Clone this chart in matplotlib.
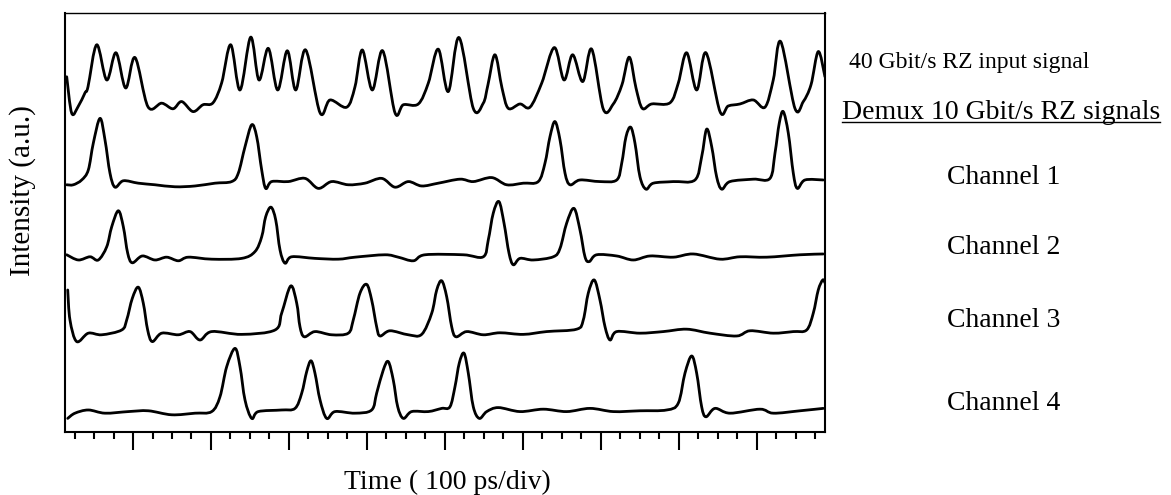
import numpy as np
import matplotlib.pyplot as plt
from matplotlib.ticker import MultipleLocator
from matplotlib.lines import Line2D
from matplotlib.path import Path
from matplotlib.patches import PathPatch

plt.rcParams['font.family'] = ['Liberation Serif', 'DejaVu Serif']
plt.rcParams['font.size'] = 18

# scope traces: time (ps) and intensity (a.u., traces stacked)
input_t = [15.0, 21.4, 29.5, 38.5, 42.3, 53.5, 66.3, 78.2, 90.6, 102.6, 119.2, 136.8, 151.3,
           162.4, 176.9, 189.7, 202.6, 213.7, 225.3, 237.2, 250.9, 261.5, 273.5, 285.5, 297.8,
           308.6, 321.4, 339.8, 352.6, 374.0, 384.6, 394.0, 406.8, 420.1, 435.9, 446.6, 465.8,
           478.6, 491.4, 504.2, 518.0, 536.3, 549.1, 555.1, 564.1, 573.1, 581.2, 596.2, 609.0,
           624.0, 640.2, 652.6, 663.7, 676.6, 688.1, 703.0, 715.8, 726.9, 736.3, 744.9, 753.0,
           765.0, 788.5, 799.1, 809.9, 822.7, 834.6, 852.6, 863.2, 878.2, 895.3, 910.3, 920.9,
           930.4, 948.7, 959.4, 969.3, 978.6, 987.2]
input_y = [8.88, 7.97, 8.13, 8.48, 8.63, 9.68, 8.80, 9.48, 8.60, 9.36, 8.13, 8.22, 8.08,
           8.26, 8.01, 8.18, 8.23, 8.73, 9.68, 8.55, 9.87, 8.80, 9.59, 8.55, 9.53,
           8.55, 9.55, 7.98, 8.30, 8.12, 8.63, 9.55, 8.55, 9.53, 7.98, 8.18, 8.20,
           8.72, 9.57, 8.51, 9.86, 8.09, 8.22, 8.68, 9.43, 8.60, 8.09, 8.20, 8.12,
           8.72, 9.61, 8.80, 9.43, 8.76, 9.57, 8.07, 8.20, 8.68, 9.37, 8.60, 8.09,
           8.20, 8.23, 8.72, 9.48, 8.55, 9.48, 8.01, 8.15, 8.20, 8.30, 8.12, 8.80,
           9.76, 8.09, 8.26, 8.68, 9.51, 8.88]

ch1_t = [15.0, 23.5, 34.2, 42.7, 49.1, 57.7, 64.1, 70.5, 76.9, 87.6, 106.8, 128.2, 153.8,
         179.5, 205.1, 226.5, 235.0, 243.6, 252.2, 258.6, 265.0, 270.1, 277.8, 299.1, 320.5,
         337.6, 354.7, 376.0, 397.4, 418.9, 435.9, 453.0, 470.1, 491.4, 519.2, 536.3, 559.9,
         579.1, 600.4, 619.6, 628.2, 634.6, 641.0, 647.5, 653.9, 660.3, 673.1, 698.7, 720.2,
         726.6, 732.1, 738.1, 743.6, 750.0, 757.7, 767.1, 792.7, 820.5, 829.1, 835.5, 842.0,
         848.3, 854.8, 865.4, 895.3, 916.7, 923.1, 928.6, 933.7, 940.2, 946.6, 951.7, 961.6,
         985.0]
ch1_y = [6.18, 6.18, 6.30, 6.55, 7.22, 7.84, 7.30, 6.47, 6.12, 6.28, 6.22, 6.18, 6.13,
         6.15, 6.22, 6.26, 6.47, 7.13, 7.68, 7.38, 6.55, 6.09, 6.26, 6.26, 6.34,
         6.09, 6.26, 6.18, 6.22, 6.34, 6.12, 6.26, 6.15, 6.22, 6.32, 6.26, 6.36,
         6.18, 6.22, 6.26, 6.72, 7.38, 7.76, 7.30, 6.47, 6.18, 6.30, 6.26, 6.30,
         6.72, 7.38, 7.62, 7.22, 6.38, 6.07, 6.22, 6.26, 6.30, 6.88, 7.57, 7.13,
         6.38, 6.07, 6.26, 6.32, 6.34, 6.97, 7.72, 8.01, 7.47, 6.47, 6.09, 6.30,
         6.30]

ch2_t = [15.0, 29.9, 44.9, 55.5, 66.3, 72.7, 81.2, 87.6, 93.2, 99.1, 111.9, 128.2, 143.2,
         158.1, 170.9, 200.9, 239.4, 256.4, 265.0, 270.1, 276.9, 283.0, 288.5, 294.9, 303.5,
         333.3, 363.2, 384.6, 423.1, 440.1, 459.4, 474.4, 523.5, 549.1, 555.5, 561.9, 569.2,
         575.7, 582.1, 587.6, 596.2, 613.2, 638.9, 647.5, 656.0, 665.4, 673.1, 679.5, 685.0,
         694.5, 720.2, 741.4, 762.8, 792.7, 818.4, 852.6, 878.2, 912.5, 955.2, 985.0]
ch2_y = [4.43, 4.30, 4.38, 4.30, 4.63, 5.13, 5.53, 5.13, 4.47, 4.23, 4.40, 4.30, 4.37,
         4.28, 4.37, 4.32, 4.34, 4.51, 4.88, 5.38, 5.62, 5.30, 4.55, 4.22, 4.38,
         4.34, 4.32, 4.37, 4.43, 4.37, 4.28, 4.43, 4.43, 4.38, 4.80, 5.47, 5.76,
         5.22, 4.47, 4.18, 4.34, 4.30, 4.38, 4.59, 5.22, 5.59, 5.05, 4.38, 4.26,
         4.43, 4.40, 4.30, 4.40, 4.37, 4.45, 4.32, 4.38, 4.37, 4.43, 4.45]

ch3_t = [16.3, 19.2, 27.8, 42.7, 59.9, 85.5, 91.9, 99.1, 106.8, 113.2, 118.8, 124.7, 136.8,
         158.1, 173.1, 185.9, 200.9, 239.4, 282.1, 290.6, 302.2, 309.9, 314.1, 319.6, 333.3,
         354.7, 376.0, 382.4, 391.0, 399.6, 406.0, 412.4, 416.7, 429.5, 453.0, 470.1, 483.0,
         489.4, 495.8, 502.2, 508.6, 514.1, 527.8, 549.1, 570.5, 600.4, 630.4, 668.9, 677.3,
         683.7, 691.4, 698.7, 705.2, 711.6, 720.2, 750.0, 779.9, 809.9, 839.8, 874.0, 891.1,
         920.9, 946.6, 963.7, 972.2, 978.6, 984.3, 987.2]
ch3_y = [3.55, 2.80, 2.26, 2.47, 2.43, 2.55, 2.80, 3.34, 3.62, 3.22, 2.55, 2.26, 2.47,
         2.43, 2.51, 2.30, 2.51, 2.44, 2.55, 2.97, 3.65, 3.22, 2.63, 2.38, 2.51,
         2.43, 2.47, 2.80, 3.47, 3.69, 3.30, 2.63, 2.40, 2.53, 2.43, 2.44, 2.97,
         3.55, 3.78, 3.38, 2.63, 2.38, 2.51, 2.43, 2.48, 2.44, 2.51, 2.57, 2.80,
         3.47, 3.80, 3.30, 2.63, 2.30, 2.51, 2.47, 2.51, 2.57, 2.47, 2.40, 2.53,
         2.47, 2.51, 2.55, 2.97, 3.55, 3.80, 3.73]

ch4_t = [16.3, 25.6, 42.7, 64.1, 94.0, 119.6, 149.6, 179.5, 200.9, 211.5, 220.1, 230.8, 237.2,
         243.6, 252.2, 260.6, 290.6, 307.7, 316.3, 322.7, 328.2, 333.3, 339.8, 348.3, 359.0,
         384.6, 406.0, 412.4, 420.9, 427.3, 433.7, 439.4, 446.6, 457.3, 478.6, 495.8, 506.4,
         512.8, 518.3, 524.4, 529.9, 536.3, 544.0, 553.5, 568.4, 596.2, 626.1, 656.0, 685.9,
         715.8, 750.0, 784.2, 799.1, 807.7, 816.3, 822.7, 829.1, 834.6, 846.2, 865.4, 903.9,
         920.9, 955.2, 985.0]
ch4_y = [0.34, 0.47, 0.55, 0.47, 0.51, 0.53, 0.43, 0.47, 0.51, 0.88, 1.63, 2.09, 1.63,
         0.80, 0.34, 0.51, 0.55, 0.59, 0.97, 1.51, 1.78, 1.47, 0.80, 0.34, 0.51,
         0.47, 0.55, 0.97, 1.55, 1.76, 1.30, 0.63, 0.34, 0.51, 0.51, 0.59, 0.63,
         1.13, 1.72, 1.97, 1.47, 0.63, 0.34, 0.51, 0.61, 0.51, 0.57, 0.51, 0.59,
         0.51, 0.53, 0.55, 0.72, 1.47, 1.90, 1.47, 0.63, 0.38, 0.59, 0.47, 0.57,
         0.47, 0.53, 0.59]

traces = [(input_t, input_y), (ch1_t, ch1_y), (ch2_t, ch2_y), (ch3_t, ch3_y), (ch4_t, ch4_y)]
channel_labels = ["Channel 1", "Channel 2", "Channel 3", "Channel 4"]
label_y = [0.642, 0.501, 0.352, 0.184]


def trace_path(t, y):
    # smooth bezier through the read-off vertices (catmull-rom tangents)
    p = np.column_stack([t, y])
    ext = np.vstack([p[0], p, p[-1]])
    verts = [p[0]]
    codes = [Path.MOVETO]
    for i in range(len(p) - 1):
        p0, p1, p2, p3 = ext[i], ext[i + 1], ext[i + 2], ext[i + 3]
        verts += [p1 + (p2 - p0) / 6, p2 - (p3 - p1) / 6, p2]
        codes += [Path.CURVE4] * 3
    return Path(verts, codes)


fig = plt.figure(figsize=(11.71, 4.95), dpi=100)
ax = fig.add_axes([0.0555, 0.1273, 0.649, 0.8465])

for t, y in traces:
    ax.add_patch(PathPatch(trace_path(t, y), fill=False, edgecolor="black", lw=2.0,
                           joinstyle="round", capstyle="round"))

ax.set_xlim(12.8, 987.2)
ax.set_ylim(0, 10.475)
ax.xaxis.set_major_locator(MultipleLocator(100))
ax.xaxis.set_minor_locator(MultipleLocator(25))
ax.tick_params(axis="x", which="major", length=13, width=1.5, labelbottom=False)
ax.tick_params(axis="x", which="minor", length=5, width=1.5)
ax.set_yticks([])
for s in ax.spines.values():
    s.set_linewidth(1.5)
ax.spines["top"].set_linewidth(1.0)

fig.text(0.382, 0.026, "Time ( 100 ps/div)", ha="center", va="center", fontsize=20)
fig.text(0.019, 0.616, "Intensity (a.u.)", rotation=90, ha="center", va="center", fontsize=21)

fig.text(0.828, 0.873, "40 Gbit/s RZ input signal", ha="center", va="center", fontsize=17)
demux = fig.text(0.855, 0.772, "Demux 10 Gbit/s RZ signals", ha="center", va="center",
                 fontsize=20)
for lab, yy in zip(channel_labels, label_y):
    fig.text(0.857, yy, lab, ha="center", va="center", fontsize=20)

# underline the demux heading
fig.canvas.draw()
bb = demux.get_window_extent().transformed(fig.transFigure.inverted())
fig.add_artist(Line2D([bb.x0, bb.x1], [bb.y0 + 0.007, bb.y0 + 0.007],
                      transform=fig.transFigure, color="black", lw=1.0))

fig.savefig("out.png", dpi=100)
